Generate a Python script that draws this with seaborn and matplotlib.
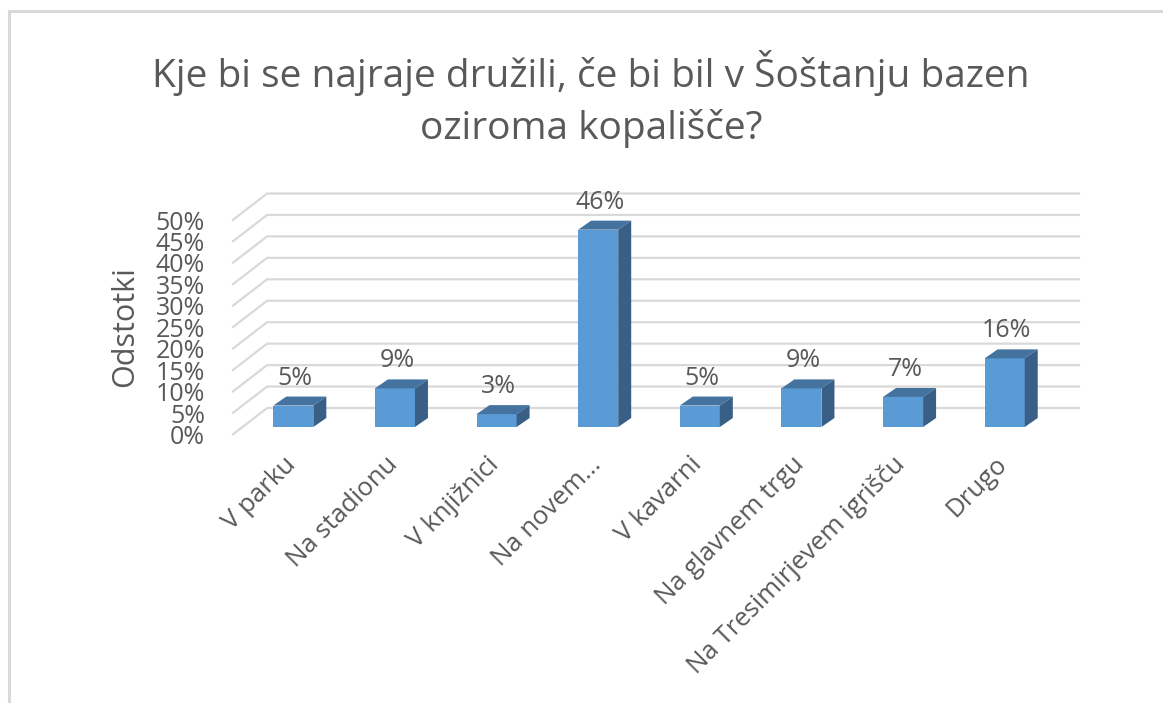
import matplotlib
matplotlib.use("Agg")
import matplotlib.pyplot as plt
import seaborn as sns
import pandas as pd
from matplotlib.patches import Polygon
from matplotlib.lines import Line2D
from matplotlib.transforms import IdentityTransform

# ---------------- data ----------------
categories = ["V parku", "Na stadionu", "V knjižnici", "Na novem…", "V kavarni",
              "Na glavnem trgu", "Na Tresimirjevem igrišču", "Drugo"]
values = [5, 9, 3, 46, 5, 9, 7, 16]
y_ticks = [0, 5, 10, 15, 20, 25, 30, 35, 40, 45, 50]
y_tick_labels = [f"{t}%" for t in y_ticks]
title_lines = ["Kje bi se najraje družili, če bi bil v Šoštanju bazen", "oziroma kopališče?"]
y_label = "Odstotki"

# ---------------- style ----------------
W, H = 1163, 703
TXT = "#595959"
GRID = "#D9D9D9"
FRONT_C = "#5B9BD5"
TOP_C = "#44739F"
SIDE_C = "#395F87"

sns.set_theme(style="white")
plt.rcParams['font.family'] = ['Open Sans', 'DejaVu Sans']

fig = plt.figure(figsize=(W / 100, H / 100), dpi=100)
fig.patch.set_facecolor("white")
ax = fig.add_axes([242.5 / W, 276 / H, 813 / W, 214.5 / H])

df = pd.DataFrame({"kategorija": categories, "odstotek": values})
sns.barplot(data=df, x="kategorija", y="odstotek", color=FRONT_C, saturation=1,
            width=0.394, ax=ax, zorder=3, linewidth=0)
ax.set_xlim(-0.5, len(categories) - 0.5)
ax.set_ylim(0, 50)
ax.axis("off")
ax.patch.set_visible(False)

ID = IdentityTransform()
FRONT = (-10.4, -8.0)   # offset of the front plane (display px)
BACK = (24.6, 19.0)     # offset of the back wall
DEPTH = (13.0, 9.0)     # depth of a bar


def td(x, y):
    return ax.transData.transform((x, y))


# walls / gridlines
x_lo, x_hi = ax.get_xlim()
for v in y_ticks:
    p = td(x_lo, v)
    q = td(x_hi, v)
    xs = [p[0] + FRONT[0], p[0] + BACK[0], q[0] + BACK[0]]
    ys = [p[1] + FRONT[1], p[1] + BACK[1], q[1] + BACK[1]]
    ax.add_line(Line2D(xs, ys, transform=ID, color=GRID, lw=1.6, zorder=1,
                       clip_on=False, solid_capstyle="butt"))

# y tick labels (front plane)
for v, lab in zip(y_ticks, y_tick_labels):
    p = td(x_lo, v)
    ax.text(p[0] + FRONT[0] - 27, p[1] + FRONT[1] - 9, lab, transform=ID,
            ha="right", va="baseline", fontsize=18, color=TXT, clip_on=False)

# 3D faces of bars and data labels
for patch, v in zip(ax.patches, values):
    x0 = patch.get_x()
    w = patch.get_width()
    bl = td(x0, 0)
    tr = td(x0 + w, v)
    dx, dy = DEPTH
    top = [(bl[0], tr[1]), (tr[0], tr[1]), (tr[0] + dx, tr[1] + dy), (bl[0] + dx, tr[1] + dy)]
    side = [(tr[0], bl[1]), (tr[0], tr[1]), (tr[0] + dx, tr[1] + dy), (tr[0] + dx, bl[1] + dy)]
    ax.add_patch(Polygon(top, closed=True, transform=ID, facecolor=TOP_C,
                         edgecolor="none", zorder=3.5, clip_on=False))
    ax.add_patch(Polygon(side, closed=True, transform=ID, facecolor=SIDE_C,
                         edgecolor="none", zorder=3.5, clip_on=False))
    cx = (bl[0] + tr[0]) / 2
    ax.text(cx + 2, tr[1] + 21, f"{v}%", transform=ID, ha="center", va="baseline",
            fontsize=18, color=TXT, clip_on=False)

# x tick labels
for i, lab in enumerate(categories):
    p = td(i, 0)
    ax.text(p[0] - 10, H - 452, lab, transform=ID, rotation=45, rotation_mode="anchor",
            ha="right", va="top", fontsize=18.5, color=TXT, clip_on=False)

# axis title
fig.text(125 / W, 1 - 327 / H, y_label, rotation=90, ha="center", va="center",
         fontsize=22, color=TXT)

# chart title
fig.text(591 / W, 1 - 87 / H, title_lines[0], ha="center", va="baseline", fontsize=28, color=TXT)
fig.text(591 / W, 1 - 139 / H, title_lines[1], ha="center", va="baseline", fontsize=28, color=TXT)

# chart border
fig.add_artist(Line2D([8.5, 8.5, W], [0, H - 10.5, H - 10.5], transform=ID,
                      color=GRID, lw=2.2, solid_capstyle="butt", solid_joinstyle="miter"))

fig.savefig("out.png", dpi=100)
